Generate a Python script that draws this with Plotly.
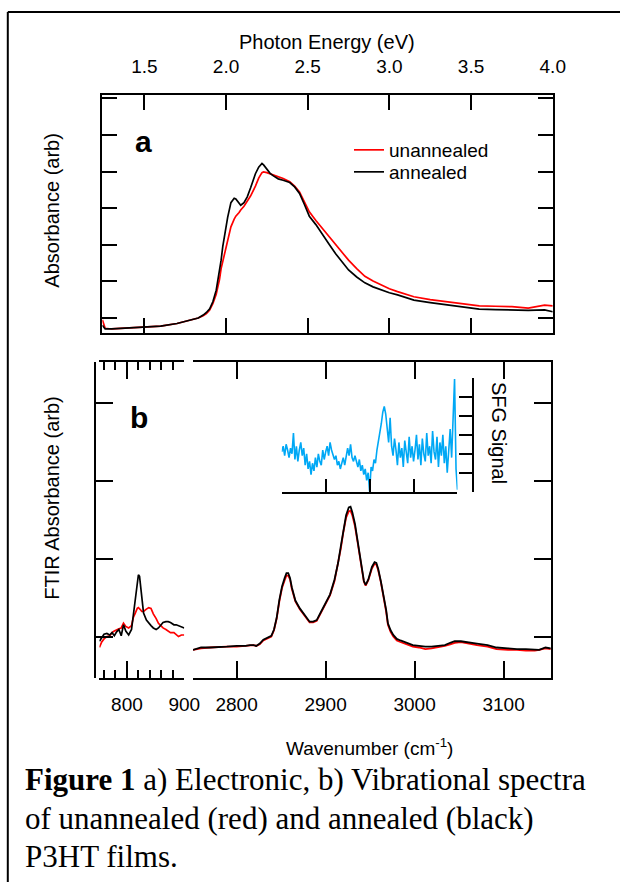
import numpy as np
import plotly.graph_objects as go

W, H = 636, 882


def px(x):
    return x / W


def py(y):
    return 1 - y / H


# ---------------- data ----------------
# (a) electronic absorbance
energy_eV = [1.243, 1.26, 1.30, 1.40, 1.50, 1.60, 1.70, 1.75, 1.80, 1.83, 1.86, 1.88, 1.90, 1.92,
             1.94, 1.96, 1.97, 1.98, 1.99, 2.01, 2.03, 2.05, 2.06, 2.08, 2.09, 2.11, 2.13, 2.15,
             2.18, 2.20, 2.22, 2.23, 2.25, 2.27, 2.29, 2.32, 2.35, 2.39, 2.42, 2.45, 2.48, 2.51,
             2.55, 2.59, 2.63, 2.67, 2.71, 2.75, 2.80, 2.85, 2.90, 2.95, 3.00, 3.05, 3.10, 3.15,
             3.25, 3.35, 3.45, 3.55, 3.65, 3.75, 3.85, 3.95, 4.0]
uv_annealed = [-0.2, -0.3, -0.3, -0.28, -0.26, -0.22, -0.15, -0.1, -0.05, 0.0, 0.08, 0.15, 0.25, 0.45,
               0.76, 1.25, 1.58, 1.95, 2.22, 2.75, 3.15, 3.27, 3.25, 3.12, 3.08, 3.15, 3.31, 3.55,
               3.94, 4.12, 4.22, 4.18, 4.05, 3.95, 3.88, 3.80, 3.76, 3.70, 3.58, 3.40, 3.10, 2.78,
               2.55, 2.30, 2.02, 1.76, 1.52, 1.31, 1.12, 0.96, 0.85, 0.76, 0.69, 0.63, 0.55, 0.49,
               0.42, 0.36, 0.30, 0.24, 0.23, 0.21, 0.21, 0.22, 0.17]
uv_unannealed = [-0.05, -0.28, -0.3, -0.28, -0.26, -0.22, -0.15, -0.1, -0.05, 0.0, 0.06, 0.12, 0.22, 0.40,
                 0.65, 1.05, 1.35, 1.55, 1.75, 2.15, 2.49, 2.70, 2.78, 2.88, 2.95, 3.05, 3.20, 3.33,
                 3.60, 3.82, 3.97, 3.99, 3.97, 3.94, 3.90, 3.86, 3.81, 3.72, 3.60, 3.44, 3.18, 2.90,
                 2.66, 2.44, 2.21, 1.99, 1.78, 1.58, 1.35, 1.14, 1.01, 0.90, 0.80, 0.72, 0.64, 0.58,
                 0.50, 0.44, 0.38, 0.33, 0.32, 0.31, 0.27, 0.35, 0.33]
energy_ticks = [1.5, 2.0, 2.5, 3.0, 3.5, 4.0]
energy_ticktext = ["1.5", "2.0", "2.5", "3.0", "3.5", "4.0"]

# (b) FTIR, low-wavenumber window
wn_low = [752, 756, 760, 765, 770, 774, 778, 782, 786, 790, 794, 798, 803, 808, 811, 814, 816, 818,
          820, 822, 824, 826, 829, 834, 838, 842, 846, 851, 855, 859, 863, 868, 872, 876, 882, 886,
          890, 895, 900]
ftir_low_annealed = [-0.05, 0.0, 0.04, 0.05, 0.03, 0.06, 0.02, 0.07, 0.10, 0.02, 0.16, 0.08, 0.03,
                     0.10, 0.27, 0.45, 0.57, 0.72, 0.80, 0.78, 0.62, 0.48, 0.31, 0.22, 0.18, 0.15,
                     0.12, 0.10, 0.12, 0.16, 0.19, 0.20, 0.20, 0.19, 0.16, 0.16, 0.15, 0.14, 0.12]
ftir_low_unannealed = [-0.13, -0.06, -0.02, 0.01, 0.02, 0.06, 0.08, 0.10, 0.11, 0.12, 0.18, 0.14, 0.12,
                       0.15, 0.25, 0.30, 0.35, 0.37, 0.38, 0.37, 0.35, 0.33, 0.33, 0.36, 0.38, 0.37,
                       0.30, 0.24, 0.18, 0.15, 0.12, 0.10, 0.08, 0.06, 0.06, 0.04, 0.01, 0.03, 0.03]
low_major = [800, 900]
low_minor = [760, 780, 820, 840, 860, 880]

# (b) FTIR, C-H stretch window
wn_high = [2751, 2760, 2770, 2780, 2789, 2800, 2810, 2815, 2819, 2822, 2826, 2830, 2835, 2839, 2842,
           2845, 2848, 2851, 2854, 2856, 2858, 2860, 2862, 2866, 2871, 2877, 2882, 2886, 2890, 2895,
           2900, 2905, 2910, 2914, 2917, 2920, 2923, 2926, 2928, 2930, 2933, 2936, 2939, 2941, 2943,
           2945, 2948, 2952, 2955, 2957, 2959, 2962, 2965, 2968, 2970, 2973, 2976, 2980, 2984, 2990,
           2998, 3005, 3012, 3019, 3025, 3034, 3040, 3045, 3052, 3060, 3070, 3082, 3092, 3105, 3115,
           3125, 3135, 3140, 3147, 3153]
ftir_high_annealed = [-0.16, -0.13, -0.13, -0.12, -0.12, -0.11, -0.11, -0.10, -0.10, -0.11, -0.08, -0.03,
                      0.0, 0.02, 0.10, 0.25, 0.48, 0.65, 0.76, 0.82, 0.82, 0.76, 0.64, 0.47, 0.37, 0.27,
                      0.20, 0.20, 0.22, 0.33, 0.45, 0.55, 0.74, 0.95, 1.16, 1.38, 1.56, 1.66, 1.67, 1.60,
                      1.45, 1.23, 1.00, 0.84, 0.72, 0.67, 0.74, 0.90, 0.96, 0.95, 0.88, 0.72, 0.55, 0.35,
                      0.18, 0.09, 0.03, -0.02, -0.04, -0.07, -0.10, -0.11, -0.12, -0.12, -0.11, -0.10,
                      -0.07, -0.05, -0.05, -0.06, -0.08, -0.10, -0.13, -0.14, -0.15, -0.15, -0.16, -0.16,
                      -0.13, -0.14]
ftir_high_unannealed = [-0.16, -0.14, -0.13, -0.12, -0.12, -0.12, -0.11, -0.11, -0.10, -0.11, -0.09, -0.04,
                        -0.01, 0.01, 0.09, 0.24, 0.46, 0.63, 0.73, 0.79, 0.79, 0.74, 0.62, 0.46, 0.36, 0.26,
                        0.19, 0.19, 0.21, 0.32, 0.44, 0.54, 0.72, 0.93, 1.13, 1.35, 1.53, 1.61, 1.62, 1.56,
                        1.42, 1.21, 0.99, 0.83, 0.71, 0.66, 0.73, 0.88, 0.94, 0.93, 0.86, 0.71, 0.53, 0.33,
                        0.16, 0.07, 0.01, -0.04, -0.06, -0.09, -0.12, -0.13, -0.15, -0.14, -0.13, -0.11,
                        -0.09, -0.07, -0.06, -0.08, -0.10, -0.12, -0.15, -0.16, -0.16, -0.17, -0.17, -0.16,
                        -0.14, -0.15]
high_ticks = [2800, 2900, 3000, 3100]

# inset: SFG signal (arbitrary units on a 0..4 x 0..6 inset frame)
sfg_signal = [2.1, 2.4, 1.9, 2.5, 2.2, 1.8, 2.3, 2.0, 3.1,
              1.7, 2.4, 1.6, 2.2, 2.6, 1.9, 2.3, 1.4, 2.0, 1.2, 1.6, 0.9,
              1.5, 1.1, 1.8, 1.3, 2.0, 1.6, 1.4, 2.2, 1.7, 2.1,
              2.4, 1.9, 2.6, 2.2, 2.0, 1.7, 1.9, 1.4, 1.6, 1.2,
              1.5, 1.8, 1.4, 2.0, 2.3, 1.9, 2.5, 1.8, 1.6, 1.9,
              1.5, 1.3, 1.7, 1.1, 1.4, 0.9, 1.2, 0.6, 1.0, 0.0,
              1.3, 1.1, 1.7, 1.5, 2.2, 2.6, 3.1, 3.6, 4.2, 4.5,
              4.1, 3.4, 2.6, 3.9, 2.4, 1.9, 2.8, 2.2, 1.4, 2.6,
              1.8, 2.3, 1.3, 2.7, 2.0, 1.5, 2.9, 1.8, 2.4, 1.6,
              2.2, 3.0, 1.7, 2.5, 1.4, 2.8, 2.0, 1.6, 3.1, 1.9,
              2.4, 1.5, 3.2, 2.1, 1.7, 2.9, 1.3, 2.6, 1.9, 3.0,
              1.5, 2.4, 1.0, 2.2, 3.3, 1.8, 4.0, 5.95, 1.2, 0.1]
sfg_x = np.linspace(0, 4, len(sfg_signal))

# ---------------- figure ----------------
RED = "#ff0000"
BLACK = "#000000"
BLUE = "#00a8f5"
SANS = "Liberation Sans"

fig = go.Figure()
fig.add_trace(go.Scatter(x=energy_eV, y=uv_unannealed, xaxis="x", yaxis="y", mode="lines",
                         line=dict(color=RED, width=1.7), name="unannealed", legend="legend"))
fig.add_trace(go.Scatter(x=energy_eV, y=uv_annealed, xaxis="x", yaxis="y", mode="lines",
                         line=dict(color=BLACK, width=1.7), name="annealed", legend="legend2"))
fig.add_trace(go.Scatter(x=wn_low, y=ftir_low_unannealed, xaxis="x2", yaxis="y2", mode="lines",
                         line=dict(color=RED, width=1.7), showlegend=False))
fig.add_trace(go.Scatter(x=wn_low, y=ftir_low_annealed, xaxis="x2", yaxis="y2", mode="lines",
                         line=dict(color=BLACK, width=1.7), showlegend=False))
fig.add_trace(go.Scatter(x=wn_high, y=ftir_high_unannealed, xaxis="x3", yaxis="y3", mode="lines",
                         line=dict(color=RED, width=1.8), showlegend=False))
fig.add_trace(go.Scatter(x=wn_high, y=ftir_high_annealed, xaxis="x3", yaxis="y3", mode="lines",
                         line=dict(color=BLACK, width=1.8), showlegend=False))
fig.add_trace(go.Scatter(x=sfg_x, y=sfg_signal, xaxis="x4", yaxis="y4", mode="lines",
                         line=dict(color=BLUE, width=1.6), showlegend=False))

common = dict(showline=True, linecolor="black", linewidth=2, ticks="inside", tickcolor="black",
              tickwidth=2, showgrid=False, zeroline=False,
              tickfont=dict(family=SANS, size=19, color="black"))

legend_style = dict(xanchor="left", yanchor="top", bgcolor="rgba(0,0,0,0)",
                    font=dict(family=SANS, size=19, color="black"), itemwidth=30)

fig.update_layout(
    width=W, height=H, margin=dict(l=0, r=0, t=0, b=0),
    paper_bgcolor="white", plot_bgcolor="rgba(0,0,0,0)",
    font=dict(family=SANS, color="black"),
    xaxis=dict(common, domain=[px(105), px(567)], range=[1.243, 4.0], anchor="y", side="top",
               mirror="ticks", tickmode="array", tickvals=energy_ticks, ticktext=energy_ticktext,
               ticklen=15, ticklabelstandoff=12),
    yaxis=dict(common, domain=[py(333), py(95)], range=[-0.41, 6.09], anchor="x", mirror="ticks",
               tickmode="array", tickvals=[0, 1, 2, 3, 4, 5, 6], ticklen=15, showticklabels=False),
    xaxis2=dict(common, domain=[px(102), px(189)], range=[752, 900], anchor="y2", mirror="ticks",
                tickmode="array", tickvals=low_major, ticktext=[str(v) for v in low_major],
                ticklen=17, ticklabelstandoff=8,
                minor=dict(tickmode="array", tickvals=low_minor, ticks="inside", ticklen=8,
                           tickcolor="black", tickwidth=2, showgrid=False)),
    yaxis2=dict(common, domain=[py(678), py(362)], range=[-0.52, 3.52], anchor="free",
                position=px(97), side="left", tickmode="array", tickvals=[0, 1, 2, 3], ticklen=17,
                showticklabels=False),
    xaxis3=dict(common, domain=[px(198), px(565)], range=[2751, 3153], anchor="y3", mirror="ticks",
                tickmode="array", tickvals=high_ticks, ticktext=[str(v) for v in high_ticks],
                ticklen=17, ticklabelstandoff=8),
    yaxis3=dict(common, domain=[py(678), py(362)], range=[-0.52, 3.52], anchor="x3", side="right",
                tickmode="array", tickvals=[0, 1, 2, 3], ticklen=17, showticklabels=False),
    xaxis4=dict(common, domain=[px(289), px(469.3)], range=[0, 4], anchor="y4",
                tickmode="array", tickvals=[0, 1, 2, 3, 4], ticklen=13, showticklabels=False),
    yaxis4=dict(common, domain=[py(491.7), py(378)], range=[0, 6], anchor="free", position=px(485),
                side="right", tickmode="array", tickvals=[0, 1, 2, 3, 4, 5, 6], ticklen=13,
                showticklabels=False),
    legend=dict(legend_style, x=px(358), y=py(131)),
    legend2=dict(legend_style, x=px(358), y=py(153)),
    showlegend=True,
)

ann = [
    dict(text="Photon Energy (eV)", x=px(335), y=py(42), size=20, angle=0),
    dict(text="Absorbance (arb)", x=px(53), y=py(210), size=20, angle=-90),
    dict(text="FTIR Absorbance (arb)", x=px(53), y=py(498), size=20, angle=-90),
    dict(text="Wavenumber (cm<sup>-1</sup>)", x=px(379), y=py(747), size=19, angle=0),
    dict(text="SFG Signal", x=px(512), y=py(433), size=20, angle=90),
    dict(text="<b>a</b>", x=px(147), y=py(141), size=30, angle=0),
    dict(text="<b>b</b>", x=px(143), y=py(417), size=30, angle=0),
]
for a in ann:
    fig.add_annotation(text=a["text"], x=a["x"], y=a["y"], xref="paper", yref="paper",
                       showarrow=False, textangle=a["angle"], xanchor="center", yanchor="middle",
                       font=dict(family=SANS, size=a["size"], color="black"))

caption = ["<b>Figure 1</b> a) Electronic, b) Vibrational spectra",
           "of unannealed (red) and annealed (black)",
           "P3HT films."]
caption_y = [779, 818, 856]
for line, yy in zip(caption, caption_y):
    fig.add_annotation(text=line, x=px(24), y=py(yy), xref="paper", yref="paper", showarrow=False,
                       xanchor="left", yanchor="middle",
                       font=dict(family="Liberation Serif", size=31, color="black"))

# outer frame (left and top edges visible)
fig.add_shape(type="line", xref="paper", yref="paper", x0=px(8), x1=px(8), y0=0, y1=py(12),
              line=dict(color="black", width=2))
fig.add_shape(type="line", xref="paper", yref="paper", x0=px(8), x1=1, y0=py(12), y1=py(12),
              line=dict(color="black", width=2))

fig.write_html("out.html")
